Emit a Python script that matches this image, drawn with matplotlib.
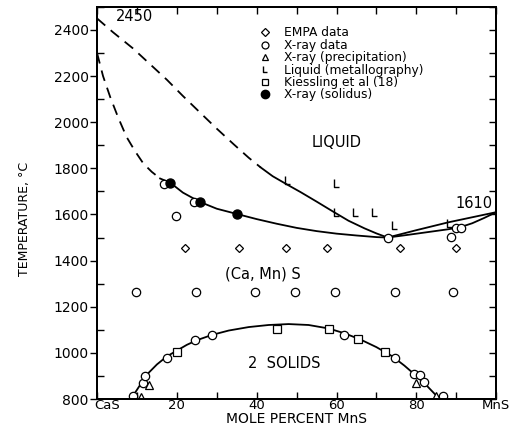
import numpy as np
import matplotlib
matplotlib.use("Agg")
import matplotlib.pyplot as plt
import matplotlib.transforms as mtransforms
from matplotlib.lines import Line2D
from matplotlib.path import Path

plt.rcParams['font.family'] = ['DejaVu Sans']

# phase boundaries (mole % MnS, temperature C)
liq_dash_x = [0, 4, 9, 13, 17.5, 21.5, 25.8, 30, 34.2, 38, 41]
liq_dash_t = [2450, 2390, 2320, 2256, 2184, 2114, 2042, 1972, 1905, 1846, 1804]
liq_x = [41, 44, 47.6, 51, 55, 59.2, 63, 67, 70, 72.8, 80, 88, 94, 100]
liq_t = [1804, 1766, 1730, 1697, 1656, 1612, 1573, 1540, 1518, 1500, 1532, 1566, 1588, 1610]

sol_dash_x = [0, 1.5, 3.3, 5.3, 7.4, 9.5, 11.6, 13.7, 15.8]
sol_dash_t = [2300, 2200, 2109, 2020, 1936, 1875, 1821, 1785, 1756]
sol_x = [15.8, 18.4, 21.5, 25.7, 30, 35.1, 40, 45, 50, 55, 60, 65, 70, 72.8,
         78, 83, 88, 91, 94, 97, 100]
sol_t = [1756, 1737, 1695, 1655, 1625, 1602, 1580, 1560, 1542, 1528, 1517, 1509, 1502, 1500,
         1512, 1524, 1536, 1545, 1562, 1585, 1610]

solvus_x = [8.5, 10, 11.5, 13, 15, 17.5, 20, 22.5, 25, 28.8, 33, 38, 43, 48, 53, 58,
            62, 66, 70, 74, 77, 80, 82.5, 85, 86]
solvus_t = [800, 840, 880, 915, 950, 985, 1010, 1035, 1055, 1078, 1097, 1112, 1121, 1125,
            1121, 1106, 1085, 1058, 1025, 985, 945, 900, 860, 815, 800]

# measurements
empa_x = [22.1, 35.6, 47.4, 57.5, 75.9, 89.9]
empa_t = [1455, 1455, 1455, 1455, 1455, 1455]

xray_x = [9.8, 24.7, 39.6, 49.6, 59.5, 74.7, 89.3,
          16.7, 24.2, 19.9, 72.8, 88.7, 89.9, 91.2,
          8.9, 11.5, 11.9, 17.5, 24.6, 28.8, 61.9, 74.7, 79.4, 80.8, 81.8, 86.6]
xray_t = [1262, 1262, 1262, 1262, 1262, 1262, 1262,
          1734, 1652, 1593, 1500, 1504, 1540, 1540,
          813, 870, 899, 978, 1055, 1079, 1079, 978, 907, 904, 875, 813]

precip_x = [10.9, 12.9, 79.9, 85.0]
precip_t = [809, 863, 870, 813]

metal_x = [47.6, 59.8, 59.8, 64.7, 69.5, 74.5, 88.3]
metal_t = [1750, 1737, 1612, 1612, 1612, 1554, 1561]

kies_x = [20.0, 45.1, 58.2, 65.5, 72.2]
kies_t = [1004, 1104, 1105, 1060, 1003]

solidus_x = [18.4, 25.7, 35.1]
solidus_t = [1737, 1655, 1602]

# open "L" glyph used as a marker
L_mark = Path([(-0.3, 0.5), (-0.3, -0.5), (0.35, -0.5)],
              [Path.MOVETO, Path.LINETO, Path.LINETO])

fig = plt.figure(figsize=(5.19, 4.30), dpi=100)
ax = fig.add_axes([0.187, 0.072, 0.769, 0.912])

ax.plot(liq_dash_x, liq_dash_t, 'k--', lw=1.3, dashes=(6, 4))
ax.plot(liq_x, liq_t, 'k-', lw=1.3)
ax.plot(sol_dash_x, sol_dash_t, 'k--', lw=1.3, dashes=(6, 4))
ax.plot(sol_x, sol_t, 'k-', lw=1.3)
ax.plot(solvus_x, solvus_t, 'k-', lw=1.3)

mk = dict(ls='none', color='k', mfc='white', mew=0.9, zorder=3)
ax.plot(empa_x, empa_t, marker='D', ms=4.2, **mk)
ax.plot(xray_x, xray_t, marker='o', ms=6, **mk)
ax.plot(precip_x, precip_t, marker='^', ms=6, **mk)
ax.plot(kies_x, kies_t, marker='s', ms=5.5, **mk)
ax.plot(metal_x, metal_t, marker=L_mark, ms=6, mfc='none', ls='none', color='k', mew=1.0, zorder=3)
ax.plot(solidus_x, solidus_t, marker='o', ms=6.5, ls='none', color='k', zorder=4)

ax.text(9.3, 2458, '2450', fontsize=10.5, ha='center', va='center')
ax.text(94.5, 1647, '1610', fontsize=10.5, ha='center', va='center')
ax.text(60, 1910, 'LIQUID', fontsize=10.5, ha='center', va='center')
ax.text(41.5, 1344, '(Ca, Mn) S', fontsize=10.5, ha='center', va='center')
ax.text(47, 955, '2  SOLIDS', fontsize=10.5, ha='center', va='center')

handles = [
    Line2D([], [], marker='D', ms=4, **mk),
    Line2D([], [], marker='o', ms=5, **mk),
    Line2D([], [], marker='^', ms=5, **mk),
    Line2D([], [], marker=L_mark, ms=5, mfc='none', ls='none', color='k', mew=1.0),
    Line2D([], [], marker='s', ms=5, **mk),
    Line2D([], [], marker='o', ms=6, ls='none', color='k'),
]
labels = ['EMPA data', 'X-ray data', 'X-ray (precipitation)', 'Liquid (metallography)',
          'Kiessling et al (18)', 'X-ray (solidus)']
ax.legend(handles, labels, loc='upper left', bbox_to_anchor=(0.385, 0.972), frameon=False,
          fontsize=8.8, handlelength=1.0, handletextpad=1.0, labelspacing=-0.05, borderpad=0.2)

ax.set_xlim(0, 100)
ax.set_ylim(800, 2500)
ax.set_xticks([0, 20, 40, 60, 80, 100])
ax.set_xticklabels(['CaS', '20', '40', '60', '80', 'MnS'])
ax.set_xticks(np.arange(0, 101, 10), minor=True)
ax.set_yticks(np.arange(800, 2401, 200))
ax.set_yticks(np.arange(800, 2501, 100), minor=True)
ax.tick_params(axis='x', which='both', direction='in', length=5, width=1, labelsize=9.5, pad=0)
ax.tick_params(axis='y', which='major', direction='out', length=5, width=1, labelsize=10, pad=1)
ax.tick_params(axis='y', which='minor', direction='in', length=5, width=1)

# keep "CaS" clear of the "800" label
cas = ax.get_xticklabels()[0]
cas.set_ha('left')
cas.set_transform(cas.get_transform() + mtransforms.ScaledTranslation(-2 / 72, 0, fig.dpi_scale_trans))

# inward ticks on the top and right frame
axt = ax.twiny()
axt.set_xlim(0, 100)
axt.set_xticks(np.arange(0, 101, 10))
axt.tick_params(direction='in', length=5, width=1, labeltop=False)
axr = ax.twinx()
axr.set_ylim(800, 2500)
axr.set_yticks(np.arange(800, 2501, 100))
axr.tick_params(direction='in', length=5, width=1, labelright=False)

for a in (ax, axt, axr):
    for s in a.spines.values():
        s.set_linewidth(1.3)

ax.set_xlabel('MOLE PERCENT MnS', fontsize=10, labelpad=0)
ax.set_ylabel('TEMPERATURE, °C', fontsize=9, family=['Liberation Sans Narrow', 'DejaVu Sans'])
ax.yaxis.set_label_coords(-0.165, 0.46)

fig.savefig('out.png', dpi=100)
